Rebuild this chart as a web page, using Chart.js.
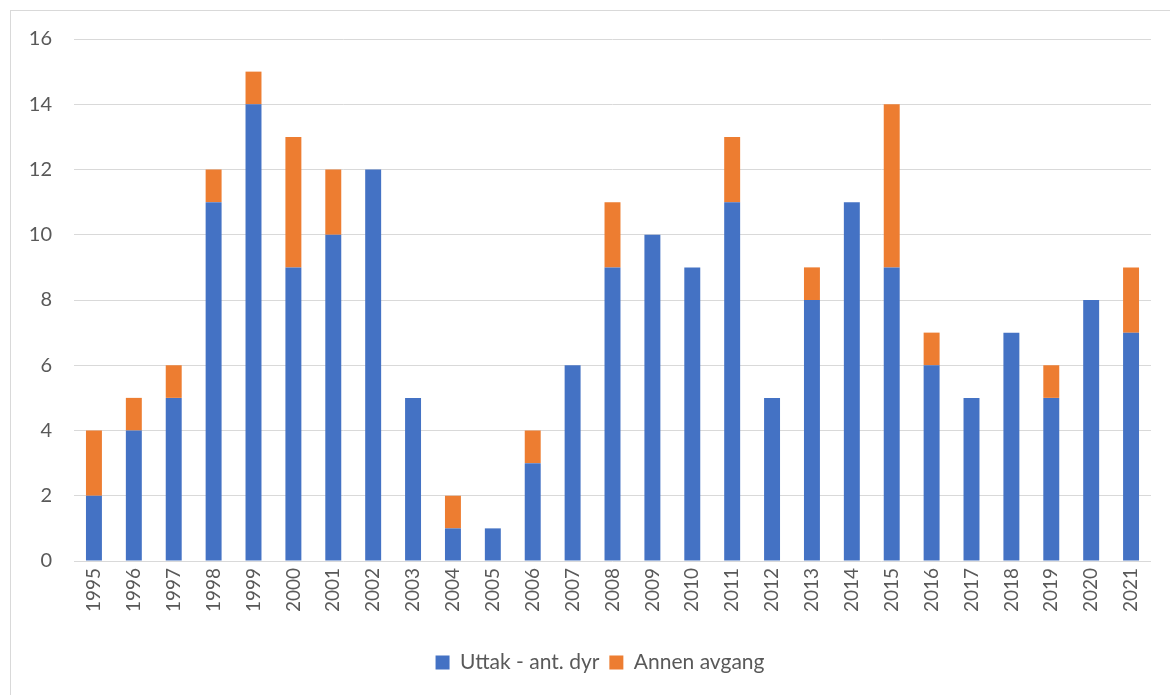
<!DOCTYPE html>
<html>
<head>
<meta charset="utf-8">
<script src="https://cdn.jsdelivr.net/npm/chart.js@4/dist/chart.umd.min.js"></script>
<style>
    body { margin: 0; background: #fff; }
    canvas { display: block; }
</style>
</head>
<body>
<canvas id="myChart" width="1170" height="695"></canvas>
<script>
const years = ['1995', '1996', '1997', '1998', '1999', '2000', '2001', '2002', '2003', '2004',
    '2005', '2006', '2007', '2008', '2009', '2010', '2011', '2012', '2013', '2014',
    '2015', '2016', '2017', '2018', '2019', '2020', '2021'];
const uttak = [2, 4, 5, 11, 14, 9, 10, 12, 5, 1, 1, 3, 6, 9, 10, 9, 11, 5, 8, 11, 9, 6, 5, 7, 5, 8, 7];
const annen = [2, 1, 1, 1, 1, 4, 2, 0, 0, 1, 0, 1, 0, 2, 0, 0, 2, 0, 1, 0, 5, 1, 0, 0, 1, 0, 2];
const yTicks = [0, 2, 4, 6, 8, 10, 12, 14, 16];

const textColor = '#595959';
const gridColor = '#d9d9d9';

// frame around the chart, like the office chart box
const frame = {
    id: 'frame',
    beforeDraw(chart) {
        let ctx = chart.ctx;
        ctx.save();
        ctx.strokeStyle = gridColor;
        ctx.lineWidth = 1;
        ctx.strokeRect(10.5, 10.5, 1200, 800);
        ctx.restore();
    }
};

// legend sits a bit right of the canvas centre in the original
const legendShift = {
    id: 'legendShift',
    afterLayout(chart) {
        let lg = chart.legend;
        let dx = 600 - (lg.left + lg.right) / 2;
        lg.left += dx;
        lg.right += dx;
    }
};

let canvas = document.getElementById('myChart');
let ctx = canvas.getContext('2d');

let chart = new Chart(ctx, {
    type: 'bar',
    data: {
        labels: years,
        datasets: [
            {
                label: 'Uttak - ant. dyr',
                data: uttak,
                backgroundColor: '#4472C4',
                barPercentage: 0.4,
                categoryPercentage: 1
            },
            {
                label: 'Annen avgang',
                data: annen,
                backgroundColor: '#ED7D31',
                barPercentage: 0.4,
                categoryPercentage: 1
            }
        ]
    },
    options: {
        responsive: false,
        animation: false,
        layout: {
            padding: { left: 0, right: 19, top: 39, bottom: 12 }
        },
        plugins: {
            tooltip: { enabled: false },
            legend: {
                position: 'bottom',
                labels: {
                    color: textColor,
                    font: { family: 'Lato', size: 21 },
                    boxWidth: 14,
                    boxHeight: 14,
                    padding: 10
                }
            }
        },
        scales: {
            x: {
                stacked: true,
                grid: { display: false, drawTicks: false },
                border: { display: false },
                ticks: {
                    color: textColor,
                    font: { family: 'Lato', size: 19 },
                    minRotation: 90,
                    maxRotation: 90,
                    padding: 7
                },
                afterFit(scale) { scale.height = 81; }
            },
            y: {
                stacked: true,
                min: 0,
                max: 16,
                afterBuildTicks(scale) { scale.ticks = yTicks.map(v => ({ value: v })); },
                grid: { color: gridColor, lineWidth: 1, drawTicks: false },
                border: { display: false },
                ticks: {
                    color: textColor,
                    font: { family: 'Lato', size: 20 },
                    padding: 22
                },
                afterFit(scale) { scale.width = 74; }
            }
        }
    },
    plugins: [frame, legendShift]
});
</script>
</body>
</html>
